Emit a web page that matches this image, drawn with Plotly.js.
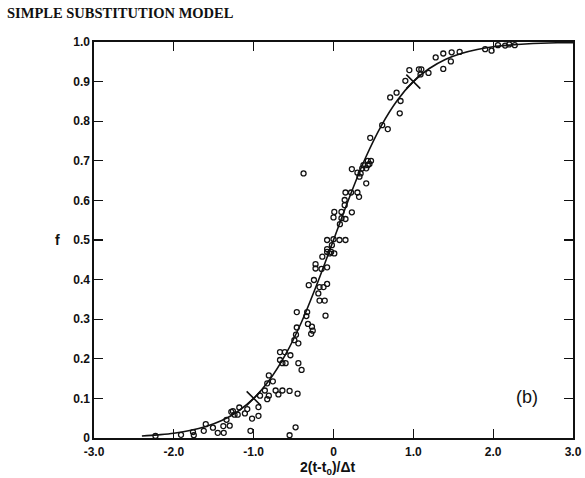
<!DOCTYPE html>
<html>
<head>
<meta charset="utf-8">
<script src="https://cdn.plot.ly/plotly-3.0.1.min.js"></script>
<style>html,body{margin:0;padding:0;background:#fff;}#chart{width:585px;height:478px;}</style>
</head>
<body>
<div id="chart"></div>
<script>
// Observed data points (open circles)
const obsX = [-2.23,-1.91,-1.76,-1.75,-1.60,-1.625,-1.51,-1.45,-1.38,-1.375,-1.34,-1.30,-1.28,-1.26,-1.24,-1.20,-1.18,-1.11,-1.08,-1.04,-1.02,-0.94,-0.94,-0.55,-0.475,
  -0.92,-0.86,-0.83,-0.81,-0.83,-0.81,-0.76,-0.725,-0.69,-0.64,-0.55,-0.45,-0.67,-0.67,-0.61,-0.64,-0.60,-0.54,-0.49,-0.47,-0.44,-0.46,-0.44,-0.40,
  -0.46,-0.33,-0.34,-0.32,-0.27,-0.28,-0.26,-0.10,-0.175,-0.11,
  -0.375,-0.19,-0.175,-0.125,-0.08,-0.31,-0.245,-0.225,-0.225,-0.08,-0.15,-0.14,-0.08,-0.08,-0.05,-0.03,0.01,-0.02,-0.08,0.0,0.075,0.15,
  0.08,0.10,0.15,0.01,0.0,0.10,0.23,0.14,0.14,0.15,0.22,0.30,0.32,0.41,0.23,0.30,0.325,0.34,0.36,0.375,0.41,0.43,0.45,0.43,0.47,
  0.46,0.61,0.68,0.71,0.79,0.84,0.83,0.90,0.95,1.07,1.10,1.09,1.19,1.28,1.375,1.375,1.47,1.48,1.58,1.90,1.98,2.06,2.15,2.20,2.27];
const obsF = [0.005,0.008,0.015,0.007,0.035,0.018,0.026,0.013,0.030,0.013,0.046,0.031,0.066,0.068,0.059,0.059,0.077,0.062,0.073,0.018,0.049,0.078,0.056,0.007,0.027,
  0.107,0.12,0.098,0.107,0.138,0.158,0.143,0.12,0.11,0.12,0.119,0.112,0.197,0.217,0.217,0.189,0.189,0.209,0.247,0.261,0.239,0.279,0.189,0.172,
  0.318,0.318,0.308,0.288,0.281,0.263,0.271,0.309,0.347,0.347,
  0.668,0.365,0.381,0.381,0.389,0.386,0.399,0.439,0.428,0.431,0.427,0.458,0.477,0.47,0.466,0.47,0.466,0.487,0.5,0.502,0.5,0.5,
  0.54,0.555,0.553,0.571,0.557,0.571,0.57,0.601,0.588,0.62,0.62,0.62,0.609,0.643,0.679,0.670,0.660,0.668,0.681,0.689,0.681,0.689,0.692,0.700,0.700,
  0.758,0.79,0.78,0.86,0.872,0.851,0.82,0.902,0.929,0.931,0.931,0.918,0.922,0.961,0.971,0.932,0.951,0.974,0.975,0.982,0.978,0.992,0.991,0.994,0.992];

// Fitted curve
const curveX = [-2.4,-2.2,-2.0,-1.8,-1.6,-1.4,-1.2,-1.0,-0.8,-0.6,-0.4,-0.2,0.0,0.2,0.4,0.6,0.8,1.0,1.2,1.4,1.6,1.8,2.0,2.2,2.4,2.6,2.8,3.0];
const curveF = [0.005,0.008,0.012,0.019,0.029,0.044,0.067,0.100,0.147,0.211,0.293,0.392,0.500,0.608,0.707,0.789,0.853,0.900,0.933,0.956,0.971,0.981,0.988,0.992,0.995,0.997,0.998,0.998];

// Marked crosses
const crossX = [-1.0, 1.0];
const crossF = [0.1, 0.9];

const xTickVals = [-3,-2,-1,0,1,2,3];
const xTickText = ['-3.0','-2.0','-1.0','0','1.0','2.0','3.0'];
const yTickVals = [0,0.1,0.2,0.3,0.4,0.5,0.6,0.7,0.8,0.9,1.0];
const yTickText = ['0','0.1','0.2','0.3','0.4','0.5','0.6','0.7','0.8','0.9','1.0'];

const tickFont = {family:'Liberation Sans, Arial, sans-serif', size:12, color:'#111', weight:'bold'};

const traces = [
  {x:curveX, y:curveF, mode:'lines', type:'scatter', line:{color:'#111', width:1.6, shape:'spline', smoothing:1}, hoverinfo:'skip'},
  {x:obsX, y:obsF, mode:'markers', type:'scatter', marker:{symbol:'circle-open', size:5, color:'#111', line:{width:1.3, color:'#111'}}},
  {x:crossX, y:crossF, mode:'markers', type:'scatter', marker:{symbol:'x-thin-open', size:14, color:'#111', line:{width:1.6, color:'#111'}}}
];

const layout = {
  width:585, height:478,
  margin:{l:94, r:12, t:42, b:40},
  paper_bgcolor:'#fff', plot_bgcolor:'#fff',
  showlegend:false,
  title:{text:'SIMPLE SUBSTITUTION MODEL', x:0.012, xanchor:'left', xref:'container', y:0.973, yanchor:'middle', yref:'container',
    font:{family:'Liberation Serif, Times New Roman, serif', size:14.5, color:'#111', weight:'bold'}},
  xaxis:{range:[-3,3], tickvals:xTickVals, ticktext:xTickText, ticks:'inside', ticklen:9, tickwidth:1.3, tickcolor:'#111',
    showline:true, linecolor:'#111', linewidth:1.6, mirror:'ticks', showgrid:false, zeroline:false, tickfont:tickFont,
    ticklabelstandoff:2, fixedrange:true},
  yaxis:{range:[0,1], tickvals:yTickVals, ticktext:yTickText, ticks:'inside', ticklen:9, tickwidth:1.3, tickcolor:'#111',
    showline:true, linecolor:'#111', linewidth:1.6, mirror:'ticks', showgrid:false, zeroline:false, tickfont:tickFont, fixedrange:true},
  annotations:[
    {text:'2(t-t<sub>0</sub>)/Δt', xref:'paper', yref:'paper', x:0.5, y:0, xshift:-6, yshift:-30, xanchor:'center', yanchor:'middle', showarrow:false,
      font:{family:'Liberation Sans, Arial, sans-serif', size:14, color:'#111', weight:'bold'}},
    {text:'f', xref:'paper', yref:'paper', x:0, y:0.5, xshift:-37, xanchor:'center', yanchor:'middle', showarrow:false,
      font:{family:'Liberation Sans, Arial, sans-serif', size:14, color:'#111', weight:'bold'}},
    {text:'(b)', xref:'x', yref:'y', x:2.425, y:0.103, xanchor:'center', yanchor:'middle', showarrow:false,
      font:{family:'Liberation Sans, Arial, sans-serif', size:18, color:'#111'}}
  ]
};

Plotly.newPlot('chart', traces, layout, {displayModeBar:false, staticPlot:true});
</script>
</body>
</html>
